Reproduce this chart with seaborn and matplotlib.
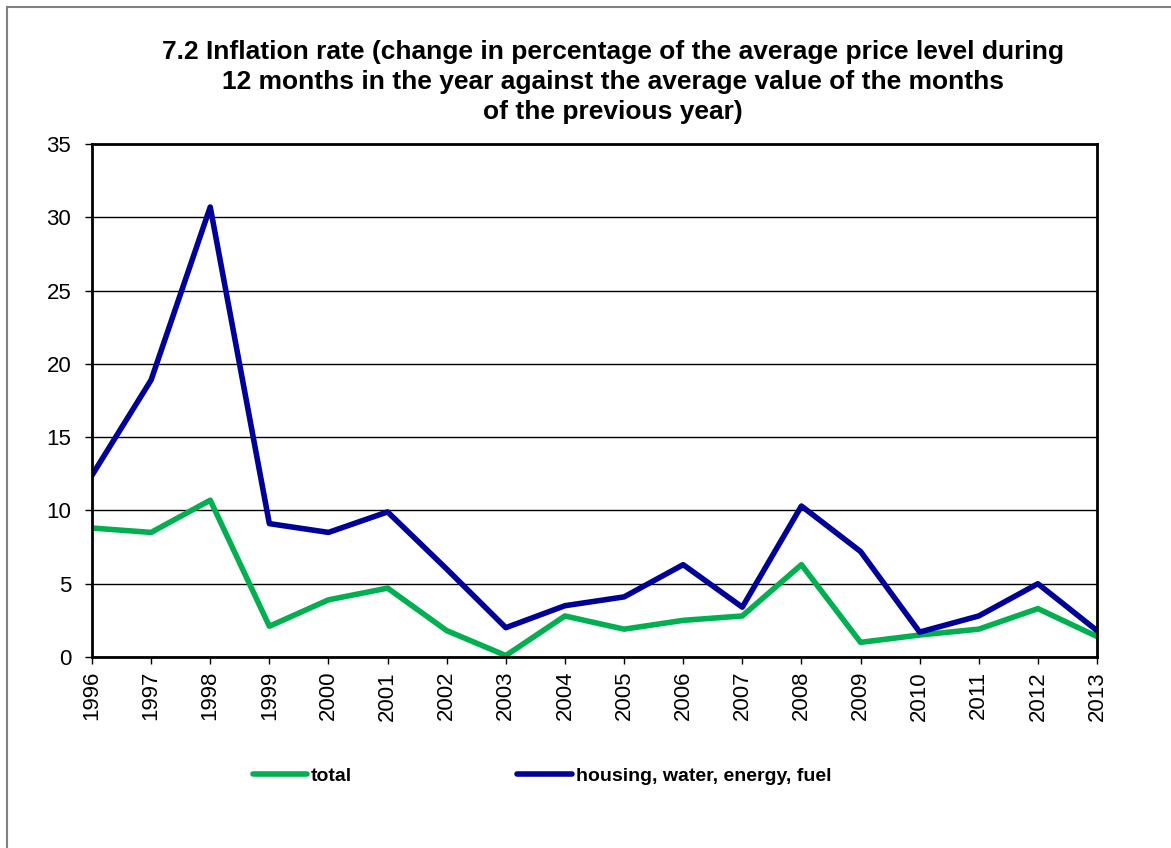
import pandas as pd
import seaborn as sns
import matplotlib.pyplot as plt
from matplotlib.patches import Rectangle

# values
years = list(range(1996, 2014))
total = [8.8, 8.5, 10.7, 2.1, 3.9, 4.7, 1.8, 0.1, 2.8, 1.9,
         2.5, 2.8, 6.3, 1.0, 1.5, 1.9, 3.3, 1.4]
housing = [12.4, 18.9, 30.7, 9.1, 8.5, 9.9, 6.0, 2.0, 3.5, 4.1,
           6.3, 3.4, 10.3, 7.2, 1.7, 2.8, 5.0, 1.8]
series_names = ['total', 'housing, water, energy, fuel']
series_colors = ['#00B050', '#000099']

title = ('7.2 Inflation rate (change in percentage of the average price level during\n'
         '12 months in the year against the average value of the months\n'
         'of the previous year)')

sns.set_theme(style='white')
plt.rcParams['font.family'] = ['Liberation Sans', 'DejaVu Sans']
plt.rcParams['text.color'] = 'black'
plt.rcParams['xtick.color'] = 'black'
plt.rcParams['ytick.color'] = 'black'

df = pd.DataFrame({'year': years * 2,
                   'value': total + housing,
                   'series': [series_names[0]] * len(years) + [series_names[1]] * len(years)})

fig = plt.figure(figsize=(11.71, 8.48), dpi=100)
ax = fig.add_axes([92 / 1171, 1 - 657 / 848, (1097 - 92) / 1171, (657 - 144) / 848])

sns.lineplot(data=df, x='year', y='value', hue='series', palette=series_colors,
             hue_order=series_names, linewidth=4, ax=ax, legend=False)

ax.set_xlim(1996, 2013)
ax.set_ylim(0, 35)
ax.set_xticks(years)
ax.set_xticklabels([str(y) for y in years], rotation=90, fontsize=16)
ax.set_yticks(range(0, 36, 5))
ax.tick_params(axis='y', labelsize=16, length=5, width=1, direction='out', left=True, pad=10)
ax.tick_params(axis='x', length=5, width=1, direction='out', bottom=True, pad=5)
ax.set_xlabel('')
ax.set_ylabel('')
ax.grid(axis='y', color='black', linewidth=1)
ax.grid(axis='x', visible=False)
for s in ax.spines.values():
    s.set_color('black')
    s.set_linewidth(2)

fig.text(613 / 1171, 1 - 82 / 848, title, ha='center', va='center',
         fontsize=19, fontweight='bold', linespacing=1.33)

handles = [plt.Line2D([], [], color=c, linewidth=4, solid_capstyle='round') for c in series_colors]
fig.legend(handles, series_names, loc='center', bbox_to_anchor=(542 / 1171, 1 - 776 / 848),
           ncol=2, frameon=False, handlelength=2.8, handletextpad=0.2, columnspacing=8.5,
           prop={'weight': 'bold', 'size': 14})

# outer chart frame
fig.patches.append(Rectangle((7 / 1171, -0.05), 1.1, 1.05 - 7 / 848,
                             transform=fig.transFigure, fill=False,
                             edgecolor='#808080', linewidth=1.5))

fig.savefig('out.png', dpi=100)
